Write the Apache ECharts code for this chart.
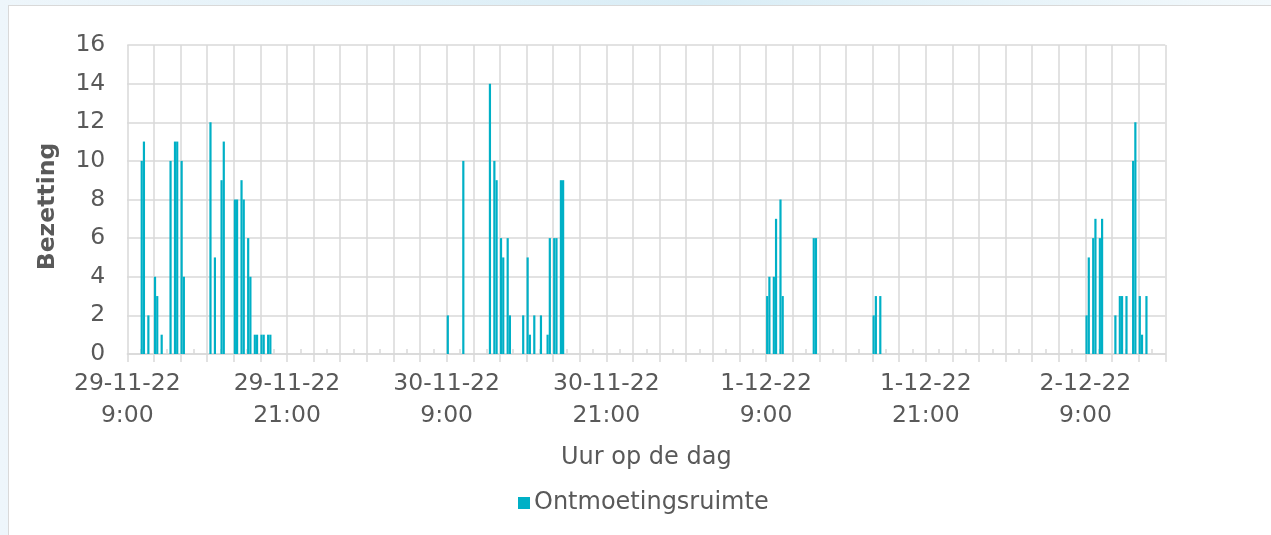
<!DOCTYPE html>
<html>
<head>
<meta charset="utf-8">
<script src="https://cdn.jsdelivr.net/npm/echarts@6/dist/echarts.min.js"></script>
<style>
  html, body { margin: 0; padding: 0; }
  body {
    width: 1271px; height: 535px; overflow: hidden; position: relative;
    background: linear-gradient(90deg, #eef6fb 0%, #d9edf6 55%, #f3f9fc 100%);
  }
  #frame {
    position: absolute; left: 8px; top: 5px; width: 1300px; height: 600px;
    background: #ffffff; border: 1px solid #d9d9d9; box-sizing: border-box;
  }
  #chart { position: absolute; left: 0; top: 0; width: 1271px; height: 535px; }
</style>
</head>
<body>
<div id="frame"></div>
<div id="chart"></div>
<script>
// Occupancy of the meeting room, sampled in 10-minute slots (slot start time)
const seriesName = 'Ontmoetingsruimte';
const axisStart = '29-11-22 9:00';
const axisSpanHours = 78;
const slotMinutes = 10;

const tickLabels = [
  '29-11-22\n9:00', '29-11-22\n21:00',
  '30-11-22\n9:00', '30-11-22\n21:00',
  '1-12-22\n9:00', '1-12-22\n21:00',
  '2-12-22\n9:00'
];

const day1Times = ['29-11-22 10:00', '29-11-22 10:10', '29-11-22 10:30', '29-11-22 11:00', '29-11-22 11:10',
  '29-11-22 11:30', '29-11-22 12:10', '29-11-22 12:30', '29-11-22 12:40', '29-11-22 13:00', '29-11-22 13:10',
  '29-11-22 15:10', '29-11-22 15:30', '29-11-22 16:00', '29-11-22 16:10', '29-11-22 17:00', '29-11-22 17:10',
  '29-11-22 17:30', '29-11-22 17:40', '29-11-22 18:00', '29-11-22 18:10', '29-11-22 18:30', '29-11-22 18:40',
  '29-11-22 19:00', '29-11-22 19:10', '29-11-22 19:30', '29-11-22 19:40'];
const day1Values = [10, 11, 2, 4, 3, 1, 10, 11, 11, 10, 4, 12, 5, 9, 11, 8, 8, 9, 8, 6, 4, 1, 1, 1, 1, 1, 1];

const day2Times = ['30-11-22 9:00', '30-11-22 10:10', '30-11-22 12:10', '30-11-22 12:30', '30-11-22 12:40',
  '30-11-22 13:00', '30-11-22 13:10', '30-11-22 13:30', '30-11-22 13:40', '30-11-22 14:40', '30-11-22 15:00',
  '30-11-22 15:10', '30-11-22 15:30', '30-11-22 16:00', '30-11-22 16:30', '30-11-22 16:40', '30-11-22 17:00',
  '30-11-22 17:10', '30-11-22 17:30', '30-11-22 17:40'];
const day2Values = [2, 10, 14, 10, 9, 6, 5, 6, 2, 2, 5, 1, 2, 2, 1, 6, 6, 6, 9, 9];

const day3Times = ['1-12-22 9:00', '1-12-22 9:10', '1-12-22 9:30', '1-12-22 9:40', '1-12-22 10:00',
  '1-12-22 10:10', '1-12-22 12:30', '1-12-22 12:40', '1-12-22 17:00', '1-12-22 17:10', '1-12-22 17:30'];
const day3Values = [3, 4, 4, 7, 8, 3, 6, 6, 2, 3, 3];

const day4Times = ['2-12-22 9:00', '2-12-22 9:10', '2-12-22 9:30', '2-12-22 9:40', '2-12-22 10:00',
  '2-12-22 10:10', '2-12-22 11:10', '2-12-22 11:30', '2-12-22 11:40', '2-12-22 12:00', '2-12-22 12:30',
  '2-12-22 12:40', '2-12-22 13:00', '2-12-22 13:10', '2-12-22 13:30'];
const day4Values = [2, 5, 6, 7, 6, 7, 2, 3, 3, 3, 10, 12, 3, 1, 3];

// 'd-m-yy h:mm' -> Date
function parseStamp(s) {
  const [d, t] = s.split(' ');
  const [dd, mm, yy] = d.split('-').map(Number);
  const [hh, mi] = t.split(':').map(Number);
  return new Date(2000 + yy, mm - 1, dd, hh, mi);
}
const t0 = parseStamp(axisStart).getTime();
// hours from axis start to the middle of the slot
function slotCenter(s) {
  return (parseStamp(s).getTime() - t0) / 3600000 + slotMinutes / 120;
}

const allTimes = day1Times.concat(day2Times, day3Times, day4Times);
const allValues = day1Values.concat(day2Values, day3Values, day4Values);
const barData = allTimes.map((t, i) => [slotCenter(t), allValues[i]]);

// one category per 2 hours, used only for the small in-between tick marks
const twoHourBlocks = Array.from({ length: axisSpanHours / 2 }, (_, i) => String(i));

const FONT = "'DejaVu Sans', Verdana, sans-serif";
const TEXT = '#595959';
const GRID = '#d9d9d9';
const BAR = '#00b0c6';

const chart = echarts.init(document.getElementById('chart'), null, { renderer: 'canvas' });
chart.setOption({
  animation: false,
  textStyle: { fontFamily: FONT },
  grid: { left: 127.3, right: 105.7, top: 45, bottom: 181, containLabel: false },
  legend: {
    data: [seriesName], left: 518, top: 491, padding: 0, icon: 'rect', itemWidth: 12, itemHeight: 12,
    itemStyle: { color: BAR },
    textStyle: { fontSize: 24, color: TEXT, fontFamily: FONT, padding: [0, 0, 0, -1] }
  },
  xAxis: [
    {
      type: 'value', min: 0, max: axisSpanHours, interval: 2, position: 'bottom',
      name: 'Uur op de dag', nameLocation: 'middle', nameGap: 92,
      nameTextStyle: { fontSize: 24, color: TEXT, fontFamily: FONT },
      axisLine: { show: true, lineStyle: { color: GRID, width: 1.5 } },
      axisTick: { show: true, length: 8, lineStyle: { color: GRID, width: 1.5 } },
      splitLine: { show: true, lineStyle: { color: GRID, width: 1.5 } },
      axisLabel: {
        fontSize: 23.5, color: TEXT, fontFamily: FONT, lineHeight: 32, margin: 14,
        formatter: v => (v % 12 === 0 && tickLabels[v / 12]) ? tickLabels[v / 12] : ''
      }
    },
    {
      type: 'category', data: twoHourBlocks, position: 'bottom', boundaryGap: true,
      axisLine: { show: false }, axisLabel: { show: false }, splitLine: { show: false },
      axisTick: { show: true, inside: true, alignWithLabel: true, interval: 0, length: 5,
        lineStyle: { color: GRID, width: 1.5 } }
    }
  ],
  yAxis: {
    type: 'value', min: 0, max: 16, interval: 2,
    name: 'Bezetting', nameLocation: 'middle', nameGap: 67, nameRotate: 90,
    nameTextStyle: { fontSize: 23.5, fontWeight: 'bold', color: TEXT, fontFamily: FONT, padding: [0, 14, 0, 0] },
    axisLine: { show: false }, axisTick: { show: false },
    splitLine: { show: true, lineStyle: { color: GRID, width: 1.5 } },
    axisLabel: { fontSize: 23.5, color: TEXT, fontFamily: FONT, margin: 22 }
  },
  series: [{
    name: seriesName, type: 'bar', xAxisIndex: 0, barWidth: 2.2,
    itemStyle: { color: BAR },
    data: barData
  }]
});
</script>
</body>
</html>
